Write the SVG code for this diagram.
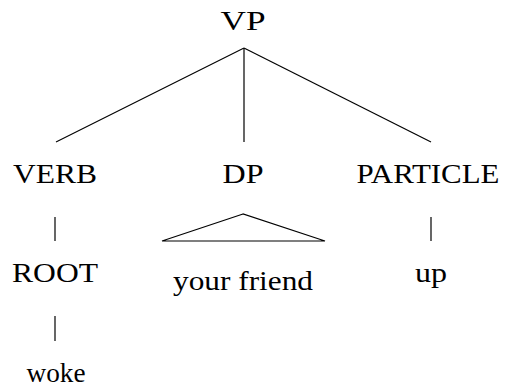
<svg xmlns="http://www.w3.org/2000/svg" width="506" height="387" viewBox="0 0 506 387">
<style>
text{font-family:"Liberation Serif","Times New Roman",serif;font-size:27px;fill:#000;text-anchor:middle}
line,polygon{stroke:#000;stroke-width:1.2;fill:none}
</style>
<rect width="506" height="387" fill="#fff"/>
<g id="connectors">
<line x1="244" y1="48" x2="56" y2="142"/>
<line x1="244" y1="48" x2="244" y2="142"/>
<line x1="244" y1="48" x2="431" y2="142"/>
<line x1="55" y1="217" x2="55" y2="241"/>
<line x1="431" y1="217" x2="431" y2="241"/>
<line x1="55" y1="316" x2="55" y2="341"/>
<polygon points="243,214 162,241 325,241"/>
</g>
<g id="vp"><text x="243" y="30" textLength="45" lengthAdjust="spacingAndGlyphs">VP</text></g>
<g id="verb"><text x="55" y="183" textLength="84" lengthAdjust="spacingAndGlyphs">VERB</text></g>
<g id="dp"><text x="243" y="183" textLength="41" lengthAdjust="spacingAndGlyphs">DP</text></g>
<g id="particle"><text x="428" y="183" textLength="143" lengthAdjust="spacingAndGlyphs">PARTICLE</text></g>
<g id="root"><text x="55" y="282" textLength="86" lengthAdjust="spacingAndGlyphs">ROOT</text></g>
<g id="yourfriend"><text x="243" y="290" textLength="140" lengthAdjust="spacingAndGlyphs">your friend</text></g>
<g id="up"><text x="431" y="282" textLength="32" lengthAdjust="spacingAndGlyphs">up</text></g>
<g id="woke"><text x="56" y="382" textLength="59" lengthAdjust="spacingAndGlyphs">woke</text></g>
</svg>
